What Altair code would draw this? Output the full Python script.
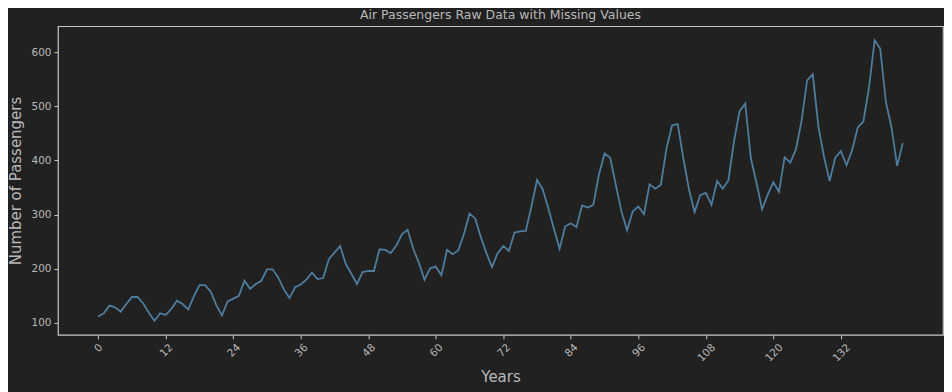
import altair as alt
import pandas as pd

passengers = [
    112, 118, 132, 129, 121, 135, 148, 148, 136, 119, 104, 118,
    115, 126, 141, 135, 125, 149, 170, 170, 158, 133, 114, 140,
    145, 150, 178, 163, 172, 178, 199, 199, 184, 162, 146, 166,
    171, 180, 193, 181, 183, 218, 230, 242, 209, 191, 172, 194,
    196, 196, 236, 235, 229, 243, 264, 272, 237, 211, 180, 201,
    204, 188, 235, 227, 234, 264, 302, 293, 259, 229, 203, 229,
    242, 233, 267, 269, 270, 315, 364, 347, 312, 274, 237, 278,
    284, 277, 317, 313, 318, 374, 413, 405, 355, 306, 271, 306,
    315, 301, 356, 348, 355, 422, 465, 467, 404, 347, 305, 336,
    340, 318, 362, 348, 363, 435, 491, 505, 404, 359, 310, 337,
    360, 342, 406, 396, 420, 472, 548, 559, 463, 407, 362, 405,
    417, 391, 419, 461, 472, 535, 622, 606, 508, 461, 390, 432,
]
month_index = list(range(len(passengers)))
x_ticks = [0, 12, 24, 36, 48, 60, 72, 84, 96, 108, 120, 132]
y_ticks = [100, 200, 300, 400, 500, 600]

df = pd.DataFrame({"t": month_index, "passengers": passengers})

BG = "#212121"
TXT = "#b8b8b8"
EDGE = "#c8c8c8"

chart = (
    alt.Chart(df)
    .mark_line(color="#4f7c9c", strokeWidth=1.8, clip=True)
    .encode(
        x=alt.X(
            "t:Q",
            scale=alt.Scale(domain=[-7.15, 150.15], nice=False, zero=False),
            axis=alt.Axis(
                title="Years",
                values=x_ticks,
                labelAngle=-45,
                labelAlign="right",
                labelBaseline="top",
                labelOffset={
                    "condition": [
                        {"test": "datum.value >= 100", "value": 4},
                        {"test": "datum.value == 0", "value": -1},
                    ],
                    "value": 1.5,
                },
                labelPadding=3,
                titlePadding=6,
            ),
        ),
        y=alt.Y(
            "passengers:Q",
            scale=alt.Scale(domain=[78.1, 647.9], nice=False, zero=False),
            axis=alt.Axis(
                title="Number of Passengers",
                values=y_ticks,
                labelPadding=3,
                titlePadding=7,
            ),
        ),
    )
    .properties(
        width=886,
        height=309,
        title=alt.TitleParams(
            "Air Passengers Raw Data with Missing Values",
            fontSize=12.5,
            fontWeight="normal",
            color=TXT,
            font="DejaVu Sans",
            offset=5,
        ),
        background=BG,
        padding={"left": 50, "top": 18, "right": 1, "bottom": 57},
        autosize=alt.AutoSizeParams(type="none"),
    )
    .configure_view(fill=BG, stroke=EDGE, strokeWidth=1.2)
    .configure_axis(
        grid=False,
        domain=False,
        tickColor=EDGE,
        tickSize=4,
        tickWidth=1,
        labelColor=TXT,
        labelFont="DejaVu Sans",
        labelFontSize=10.5,
        titleColor=TXT,
        titleFont="DejaVu Sans",
        titleFontSize=15,
        titleFontWeight="normal",
    )
)

chart.save("out.html", embed_options={"renderer": "svg", "actions": False})
